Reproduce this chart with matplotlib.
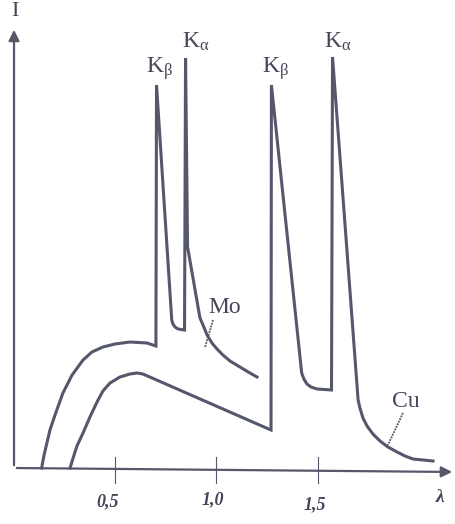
import matplotlib
matplotlib.use('Agg')
import matplotlib.pyplot as plt

plt.rcParams['mathtext.fontset'] = 'custom'
plt.rcParams['mathtext.rm'] = 'Liberation Serif'
plt.rcParams['mathtext.it'] = 'Liberation Serif'

# Mo spectrum (wavelength, intensity in arbitrary units)
mo_lam = [0.141, 0.153, 0.167, 0.182, 0.207, 0.246, 0.291, 0.345, 0.389,
          0.443, 0.502, 0.576, 0.660, 0.704, 0.707,
          0.782, 0.788, 0.798, 0.813, 0.845, 0.850, 0.860,
          0.921, 0.936, 0.956, 0.980, 1.005, 1.034, 1.069, 1.118, 1.167, 1.202]
mo_int = [0.00, 0.13, 0.25, 0.38, 0.53, 0.75, 0.93, 1.08, 1.16,
          1.21, 1.24, 1.26, 1.25, 1.22, 3.83,
          1.48, 1.44, 1.41, 1.39, 1.38, 4.10, 2.21,
          1.50, 1.43, 1.33, 1.25, 1.19, 1.13, 1.07, 1.01, 0.95, 0.91]

# Cu spectrum
cu_lam = [0.281, 0.296, 0.315, 0.345, 0.379, 0.414, 0.443, 0.478, 0.527,
          0.576, 0.611, 0.640, 1.271, 1.273,
          1.422, 1.433, 1.448, 1.468, 1.498, 1.569, 1.574,
          1.700, 1.709, 1.724, 1.744, 1.773, 1.808, 1.847, 1.892, 1.931,
          1.970, 2.020, 2.069]
cu_int = [0.00, 0.10, 0.22, 0.35, 0.51, 0.66, 0.77, 0.85, 0.91,
          0.94, 0.95, 0.94, 0.38, 3.83,
          0.95, 0.89, 0.84, 0.81, 0.79, 0.78, 4.11,
          0.68, 0.60, 0.50, 0.42, 0.34, 0.27, 0.21, 0.16, 0.12,
          0.09, 0.08, 0.07]

tick_pos = [0.5, 1.0, 1.5]
tick_lab = ['0,5', '1,0', '1,5']

# peak labels: text, left x, baseline y
peak_lab = [(r'$\mathrm{K}_{\beta}$', 0.655, 3.95),
            (r'$\mathrm{K}_{\alpha}$', 0.832, 4.20),
            (r'$\mathrm{K}_{\beta}$', 1.228, 3.95),
            (r'$\mathrm{K}_{\alpha}$', 1.533, 4.20)]

col = '#55576b'
tcol = '#45465a'

fig = plt.figure(figsize=(4.55, 5.24), dpi=100)
ax = fig.add_axes([0, 0, 1, 1])
ax.set_xlim(-13/203, 442/203)
ax.set_ylim(-0.56, 4.68)
ax.axis('off')

ax.plot(mo_lam, mo_int, color=col, lw=2.2, solid_joinstyle='miter')
ax.plot(cu_lam, cu_int, color=col, lw=2.2, solid_joinstyle='miter')

# axes with arrows
ax.annotate('', xy=(2.177, -0.04), xytext=(0.005, 0),
            arrowprops=dict(arrowstyle='-|>', lw=1.6, color=col, mutation_scale=16))
ax.annotate('', xy=(0.005, 4.41), xytext=(0.005, 0),
            arrowprops=dict(arrowstyle='-|>', lw=1.6, color=col, mutation_scale=16))

for p in tick_pos:
    ax.plot([p, p], [0.11, -0.15], color=col, lw=0.8)
ax.text(0.468, -0.34, tick_lab[0], ha='center', va='center', fontsize=13,
        family='Liberation Serif', style='italic', weight='bold', color=tcol)
ax.text(0.985, -0.32, tick_lab[1], ha='center', va='center', fontsize=13,
        family='Liberation Serif', style='italic', weight='bold', color=tcol)
ax.text(1.488, -0.37, tick_lab[2], ha='center', va='center', fontsize=13,
        family='Liberation Serif', style='italic', weight='bold', color=tcol)
ax.text(2.103, -0.30, 'λ', ha='center', va='center', fontsize=14,
        family='Liberation Serif', style='italic', weight='bold', color=tcol)
ax.text(0.01, 4.52, 'I', ha='center', va='baseline', fontsize=16,
        family='Liberation Serif', color=tcol)

for s, x, y in peak_lab:
    ax.text(x, y, s, ha='left', va='baseline', fontsize=17, color=tcol)

ax.text(0.961, 1.55, 'Mo', ha='left', va='baseline', fontsize=17,
        family='Liberation Serif', color=tcol)
ax.text(1.867, 0.61, 'Cu', ha='left', va='baseline', fontsize=17,
        family='Liberation Serif', color=tcol)

# leader lines
ax.plot([0.985, 0.945], [1.48, 1.20], color=col, lw=1.3, ls=(0, (1, 0.6)))
ax.plot([1.921, 1.847], [0.55, 0.23], color=col, lw=1.3, ls=(0, (1, 0.6)))

fig.savefig('out.png', dpi=100)
